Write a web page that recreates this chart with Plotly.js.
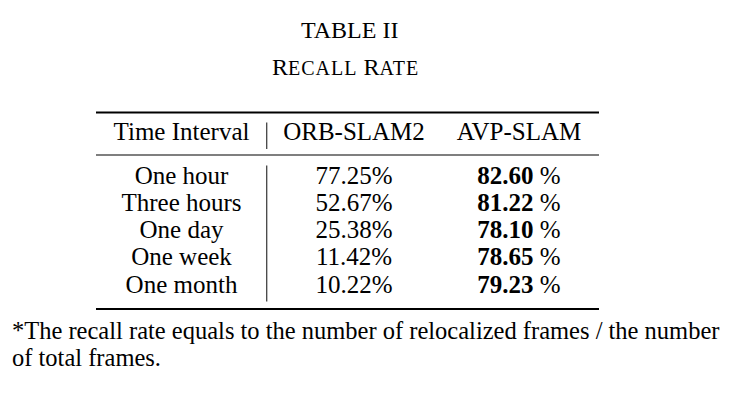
<!DOCTYPE html>
<html>
<head>
<meta charset="utf-8">
<script src="https://cdn.plot.ly/plotly-3.0.1.min.js"></script>
<style>html,body{margin:0;padding:0;background:#fff;}#chart{width:739px;height:408px;}</style>
</head>
<body>
<div id="chart"></div>
<script>
// ---- data ----
var headers = ["Time Interval", "ORB-SLAM2", "AVP-SLAM"];
var categories = ["One hour", "Three hours", "One day", "One week", "One month"];
var orbValues = [77.25, 52.67, 25.38, 11.42, 10.22];
var avpValues = [82.60, 81.22, 78.10, 78.65, 79.23];
var tableLabel = "TABLE II";
var captionText = "Recall Rate";
var footnoteLines = [
  "*The recall rate equals to the number of relocalized frames / the number",
  "of total frames."
];

// ---- layout constants ----
var W = 739, H = 408;
var FONT = "Liberation Serif, Times New Roman, serif";
var FS = 25;
var colX = [181.5, 354, 519];
var headerY = 133.5;
var row0Y = 177.5, rowStep = 27.2;
var ruleX0 = 96, ruleX1 = 599;
var topRuleY = 112.5, midRuleY = 155, botRuleY = 309;
var vbarX = 266.7;

function smallCaps(s, big, small) {
  return s.split(" ").map(function (w) {
    return '<span style="font-size:' + big + 'px">' + w.charAt(0).toUpperCase() + '</span>' +
           '<span style="font-size:' + small + 'px;letter-spacing:1px">' + w.slice(1).toUpperCase() + '</span>';
  }).join(" ");
}

var rowsY = categories.map(function (_, i) { return row0Y + i * rowStep; });

var traces = [
  {
    type: "scatter", mode: "text", hoverinfo: "skip",
    x: [colX[0], colX[1], colX[2]], y: [headerY, headerY, headerY],
    text: headers, textposition: "middle center",
    textfont: {family: FONT, size: FS, color: "#000"}
  },
  {
    type: "scatter", mode: "text", hoverinfo: "skip",
    x: categories.map(function () { return colX[0]; }), y: rowsY,
    text: categories, textposition: "middle center",
    textfont: {family: FONT, size: FS, color: "#000"}
  },
  {
    type: "scatter", mode: "text", hoverinfo: "skip",
    x: orbValues.map(function () { return colX[1]; }), y: rowsY,
    text: orbValues.map(function (v) { return v.toFixed(2) + "%"; }), textposition: "middle center",
    textfont: {family: FONT, size: FS, color: "#000"}
  },
  {
    type: "scatter", mode: "text", hoverinfo: "skip",
    x: avpValues.map(function () { return colX[2]; }), y: rowsY,
    text: avpValues.map(function (v) { return "<b>" + v.toFixed(2) + "</b> %"; }), textposition: "middle center",
    textfont: {family: FONT, size: FS, color: "#000"}
  }
];

var shapes = [
  {type: "line", xref: "x", yref: "y", x0: ruleX0, x1: ruleX1, y0: topRuleY, y1: topRuleY, line: {color: "#000", width: 2}},
  {type: "line", xref: "x", yref: "y", x0: ruleX0, x1: ruleX1, y0: midRuleY, y1: midRuleY, line: {color: "#000", width: 1.2}},
  {type: "line", xref: "x", yref: "y", x0: ruleX0, x1: ruleX1, y0: botRuleY, y1: botRuleY, line: {color: "#000", width: 2}},
  {type: "line", xref: "x", yref: "y", x0: vbarX, x1: vbarX, y0: 122.5, y1: 149, line: {color: "#444", width: 1.3}},
  {type: "line", xref: "x", yref: "y", x0: vbarX, x1: vbarX, y0: 165.5, y1: 301.5, line: {color: "#444", width: 1.3}}
];

var annotations = [
  {xref: "x", yref: "y", x: 349, y: 30, text: tableLabel, showarrow: false,
   font: {family: FONT, size: 24, color: "#000"}, xanchor: "center", yanchor: "middle"},
  {xref: "x", yref: "y", x: 345, y: 67, text: smallCaps(captionText, 24, 20), showarrow: false,
   font: {family: FONT, size: 24, color: "#000"}, xanchor: "center", yanchor: "middle"},
  {xref: "x", yref: "y", x: 10, y: 330, text: footnoteLines[0], showarrow: false,
   font: {family: FONT, size: 24.5, color: "#000"}, xanchor: "left", yanchor: "middle"},
  {xref: "x", yref: "y", x: 10, y: 357, text: footnoteLines[1], showarrow: false,
   font: {family: FONT, size: 24.5, color: "#000"}, xanchor: "left", yanchor: "middle"}
];

var layout = {
  width: W, height: H,
  margin: {l: 0, r: 0, t: 0, b: 0, pad: 0},
  paper_bgcolor: "#fff", plot_bgcolor: "#fff",
  showlegend: false,
  xaxis: {range: [0, W], visible: false, fixedrange: true},
  yaxis: {range: [H, 0], visible: false, fixedrange: true},
  shapes: shapes,
  annotations: annotations
};

Plotly.newPlot("chart", traces, layout, {staticPlot: true, displayModeBar: false});
</script>
</body>
</html>
